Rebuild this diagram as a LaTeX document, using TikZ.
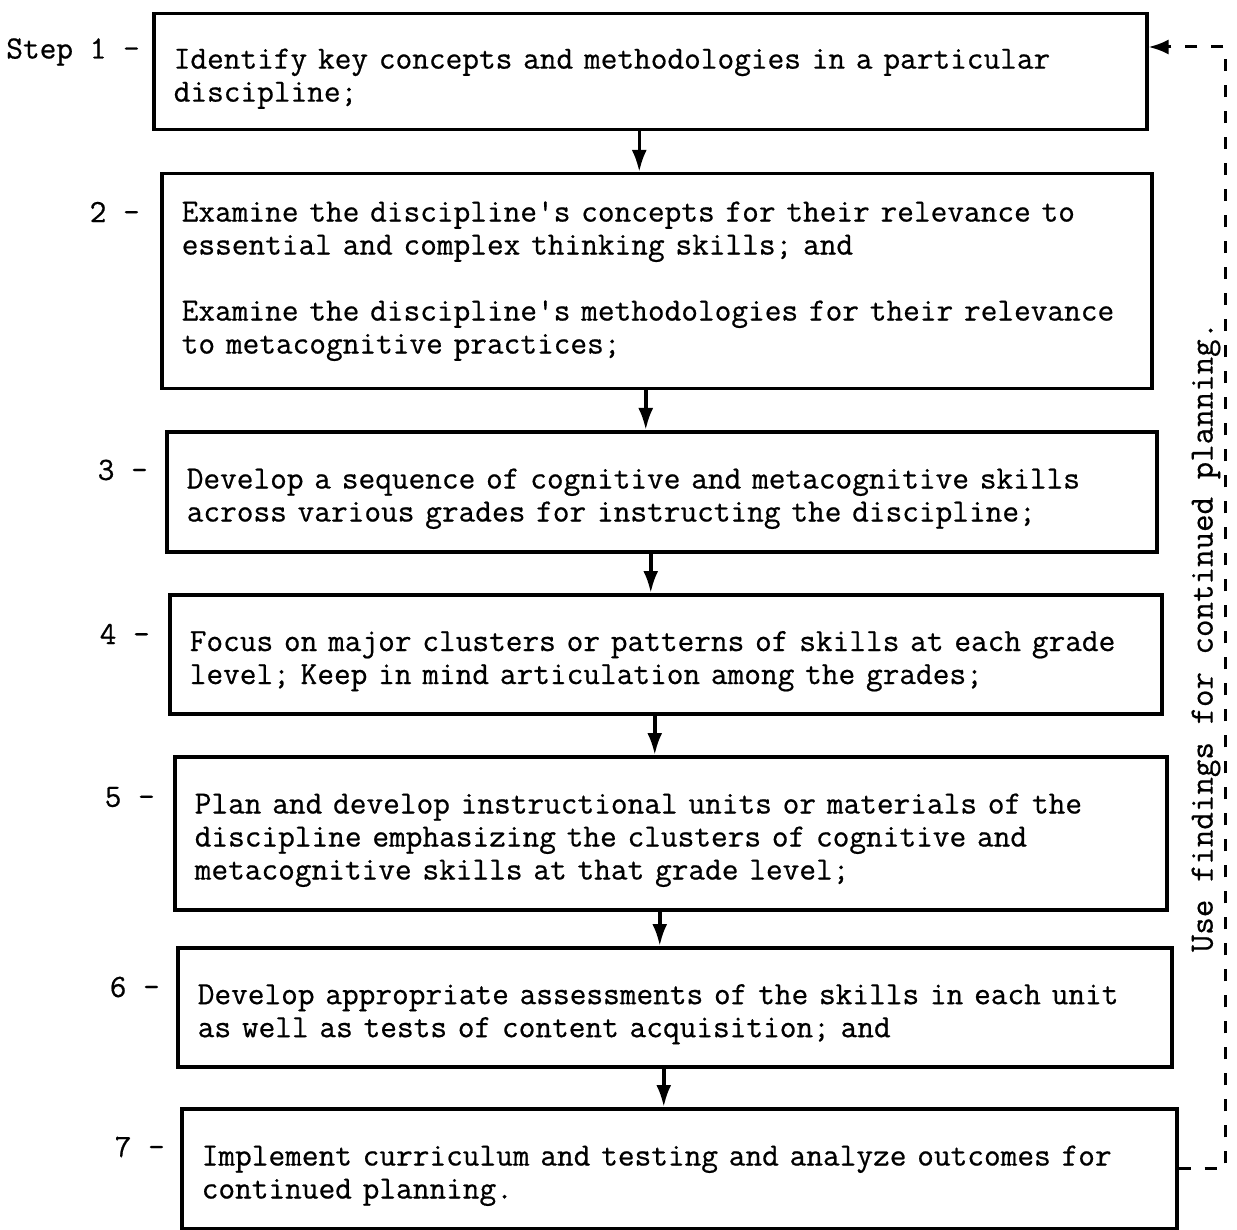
\documentclass[tikz,border=0pt]{standalone}
\usepackage{fontspec}
\setmonofont{Latin Modern Mono}[FakeBold=0.6]
\usetikzlibrary{arrows.meta,calc}
\newcommand{\firstline}{\rule{0pt}{34pt}}
\begin{document}
\begin{tikzpicture}[x=1pt,y=-1pt,
  txt/.style={font=\ttfamily\fontsize{32.4}{33}\selectfont},
  stepbox/.style={txt,draw=black,line width=3.5pt,anchor=north west,
    inner xsep=20pt,inner ysep=0pt,align=left},
  steplabel/.style={txt,anchor=east,inner sep=0pt},
  arr/.style={line width=3.5pt,-{Latex[length=22pt,width=15pt]}},
  feedback/.style={line width=3pt,dash pattern=on 12pt off 14pt,
    -{Latex[length=20pt,width=15pt]}}
]
\useasboundingbox (0,0) rectangle (1237,1230);
\fill[white] (0,0) rectangle (1237,1230);

% step boxes
\node[stepbox,text width=953pt,minimum height=116pt] (b1) at (152,12)
  {\firstline Identify key concepts and methodologies in a particular\\discipline;};
\node[stepbox,text width=950pt,minimum height=215pt] (b2) at (160,172)
  {Examine the discipline's concepts for their relevance to\\essential and complex thinking skills; and\\[33pt]Examine the discipline's methodologies for their relevance\\to metacognitive practices;};
\node[stepbox,text width=950pt,minimum height=120pt] (b3) at (165,430)
  {\firstline Develop a sequence of cognitive and metacognitive skills\\across various grades for instructing the discipline;};
\node[stepbox,text width=952pt,minimum height=119pt] (b4) at (168,593)
  {\firstline Focus on major clusters or patterns of skills at each grade\\level; Keep in mind articulation among the grades;};
\node[stepbox,text width=952pt,minimum height=153pt] (b5) at (173,755)
  {\firstline Plan and develop instructional units or materials of the\\discipline emphasizing the clusters of cognitive and\\metacognitive skills at that grade level;};
\node[stepbox,text width=954pt,minimum height=119pt] (b6) at (176,946)
  {\firstline Develop appropriate assessments of the skills in each unit\\as well as tests of content acquisition; and};
\node[stepbox,text width=955pt,minimum height=120pt] (b7) at (180,1107)
  {\firstline Implement curriculum and testing and analyze outcomes for\\continued planning.};

% step numbers
\node[steplabel] (s1) at (140,52) {Step 1 -};
\node[steplabel] (s2) at (140,212) {2 -};
\node[steplabel] (s3) at (148,470) {3 -};
\node[steplabel] (s4) at (150,634) {4 -};
\node[steplabel] (s5) at (155,797) {5 -};
\node[steplabel] (s6) at (160,987) {6 -};
\node[steplabel] (s7) at (165,1147) {7 -};

% downward flow
\foreach \a/\b in {b1/b2,b2/b3,b3/b4,b4/b5,b5/b6,b6/b7}
  \draw[arr] ([xshift=-11pt]\a.south) -- ([xshift=-11pt]\a.south |- \b.north);

% feedback loop
\coordinate (fbtop) at (1225,47);
\draw[feedback] (b7.east) -- (b7.east -| fbtop) -- (fbtop) -- (fbtop -| b1.east);
\node[txt,font=\ttfamily\fontsize{34}{36}\selectfont,rotate=90,inner sep=0pt]
  (fbl) at (1206,637) {Use findings for continued planning.};
\end{tikzpicture}
\end{document}
